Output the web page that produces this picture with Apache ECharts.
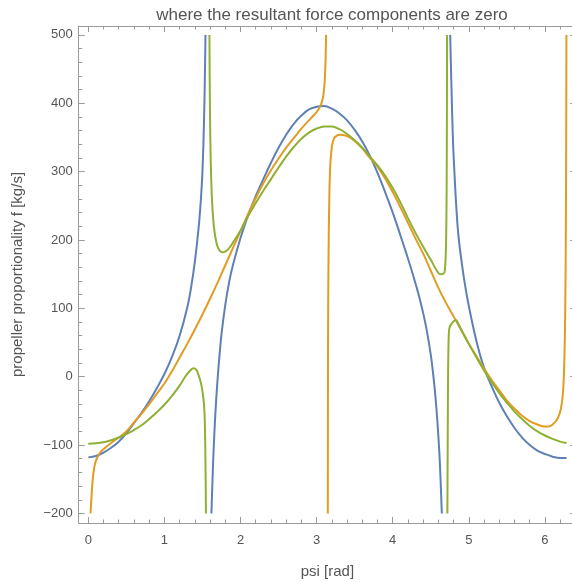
<!DOCTYPE html>
<html>
<head>
<meta charset="utf-8">
<script src="https://cdn.jsdelivr.net/npm/echarts@6/dist/echarts.min.js"></script>
<style>
html,body{margin:0;padding:0;background:#fff;}
#charts{width:572px;height:582px;}
</style>
</head>
<body>
<div id="charts"></div>
<script>
// 刻度
var xTicks = [0, 1, 2, 3, 4, 5, 6];
var yTicks = [-200, -100, 0, 100, 200, 300, 400, 500];

// 蓝线 (三段)
var blueX1 = [0, 0.1, 0.2, 0.3, 0.4, 0.5, 0.6, 0.7, 0.8, 0.9, 1.0, 1.1, 1.2, 1.3, 1.35, 1.4, 1.45, 1.48, 1.5, 1.52, 1.535, 1.54];
var blueY1 = [-118, -116, -111, -104, -95, -83, -68, -53, -36, -17, 4, 29, 60, 101, 130, 168, 218, 260, 300, 370, 460, 500];
var blueX2 = [1.618, 1.63, 1.645, 1.66, 1.68, 1.7, 1.725, 1.75, 1.8, 1.85, 1.9, 2.0, 2.1, 2.2, 2.3, 2.4, 2.5, 2.6, 2.7, 2.8, 2.9, 3.0, 3.1, 3.2, 3.3, 3.4, 3.5, 3.6, 3.7, 3.8, 3.9, 4.0, 4.05, 4.1, 4.15, 4.2, 4.25, 4.3, 4.35, 4.4, 4.45, 4.5, 4.525, 4.55, 4.575, 4.6, 4.62, 4.645];
var blueY2 = [-200, -158, -112, -75, -35, -2, 32, 62, 105, 138, 163, 203, 236, 264, 289, 313, 335, 354, 370, 382, 391, 395, 396, 392, 385, 375, 361, 344, 323, 298, 270, 240, 224, 207, 190, 173, 155, 136, 116, 93, 66, 32, 10, -16, -48, -88, -128, -200];
var blueX3 = [4.755, 4.77, 4.79, 4.81, 4.83, 4.86, 4.9, 4.95, 5.0, 5.1, 5.2, 5.3, 5.4, 5.5, 5.6, 5.7, 5.8, 5.9, 6.0, 6.1, 6.2, 6.283];
var blueY3 = [500, 430, 350, 300, 258, 210, 172, 134, 103, 52, 13, -14, -38, -58, -75, -89, -100, -108, -113, -117, -119, -119];

// 橙线 (两段)
var orangeX1 = [0.03, 0.04, 0.055, 0.075, 0.1, 0.15, 0.2, 0.3, 0.4, 0.5, 0.6, 0.7, 0.8, 0.9, 1.0, 1.1, 1.2, 1.3, 1.4, 1.5, 1.6, 1.7, 1.8, 1.9, 2.0, 2.1, 2.2, 2.3, 2.4, 2.5, 2.6, 2.7, 2.8, 2.9, 2.95, 3.0, 3.04, 3.07, 3.09, 3.105, 3.115, 3.125];
var orangeY1 = [-200, -180, -155, -135, -123, -112, -106, -97, -89, -80, -67, -54, -40, -25, -10, 8, 28, 48, 69, 91, 114, 138, 163, 188, 213, 238, 261, 283, 302, 319, 335, 349, 363, 375, 381, 387, 394, 402, 413, 430, 455, 500];
var orangeX2 = [3.147, 3.149, 3.152, 3.157, 3.165, 3.178, 3.2, 3.23, 3.27, 3.3, 3.4, 3.5, 3.6, 3.7, 3.8, 3.9, 4.0, 4.1, 4.2, 4.3, 4.4, 4.5, 4.6, 4.7, 4.8, 4.9, 5.0, 5.1, 5.2, 5.3, 5.4, 5.5, 5.6, 5.7, 5.8, 5.9, 6.0, 6.05, 6.1, 6.15, 6.19, 6.22, 6.24, 6.255, 6.266, 6.274, 6.279, 6.282];
var orangeY2 = [-200, 0, 100, 180, 250, 305, 336, 349, 353, 354, 352, 345, 334, 320, 307, 290, 270, 248, 225, 202, 180, 155, 130, 108, 88, 68, 48, 30, 12, -5, -20, -35, -47, -57, -65, -70, -73, -73, -70, -64, -55, -40, -18, 25, 95, 210, 350, 500];

// 绿线 (三段)
var greenX1 = [0, 0.1, 0.2, 0.3, 0.4, 0.5, 0.6, 0.7, 0.8, 0.9, 1.0, 1.1, 1.2, 1.28, 1.34, 1.38, 1.42, 1.45, 1.48, 1.505, 1.52, 1.53, 1.537, 1.542, 1.546];
var greenY1 = [-98, -97.5, -96, -93, -89, -84, -78, -71, -62, -52, -41, -28, -13, 1, 9, 12.5, 10, 2, -9, -25, -40, -62, -100, -150, -200];
var greenX2 = [1.592, 1.595, 1.6, 1.607, 1.615, 1.625, 1.64, 1.66, 1.68, 1.7, 1.73, 1.76, 1.8, 1.85, 1.9, 2.0, 2.1, 2.2, 2.3, 2.4, 2.5, 2.6, 2.7, 2.8, 2.9, 3.0, 3.1, 3.2, 3.3, 3.4, 3.5, 3.6, 3.7, 3.8, 3.9, 4.0, 4.1, 4.2, 4.3, 4.4, 4.5, 4.58, 4.62, 4.67, 4.685, 4.697, 4.705, 4.71, 4.714];
var greenY2 = [500, 440, 380, 325, 290, 260, 232, 211, 198, 190, 184, 182, 183, 188, 196, 214, 235, 254, 272, 289, 306, 322, 336, 348, 357, 363, 366, 366, 362, 355, 346, 335, 322, 309, 294, 276, 255, 232, 210, 190, 171, 155, 150, 151, 156, 180, 230, 320, 500];
var greenX3 = [4.718, 4.722, 4.727, 4.733, 4.74, 4.75, 4.77, 4.8, 4.83, 4.86, 4.9, 5.0, 5.1, 5.2, 5.3, 5.4, 5.5, 5.6, 5.7, 5.8, 5.9, 6.0, 6.1, 6.2, 6.283];
var greenY3 = [-200, -100, 0, 50, 68, 73, 77, 81, 83, 78, 69, 48, 28, 9, -8, -24, -38, -51, -62, -72, -80, -86, -91, -95, -97];

var blue = '#5E81B5', orange = '#E19C24', green = '#8FB032';
var frameColor = '#9a9a9a', textColor = '#555555';
var font = 'Liberation Sans, Arial, sans-serif';

var xMin = -0.1257, xMax = 6.409, yMin = -214, yMax = 513;

// 次刻度
var xMinor = [];
for (var i = 1; i <= 32; i++) {
	if (i % 5 != 0) xMinor.push(i * 0.2);
}
var yMinor = [];
for (var v = -200; v <= 500; v += 20) {
	if (v % 100 != 0) yMinor.push(v);
}

function pairs(xs, ys) {
	var d = [];
	for (var i = 0; i < xs.length; i++) d.push([xs[i], ys[i]]);
	return d;
}

function line(xs, ys, color) {
	return {
		type: 'line',
		data: pairs(xs, ys),
		showSymbol: false,
		symbol: 'none',
		smooth: 0.4,
		lineStyle: { color: color, width: 2 },
		itemStyle: { color: color },
		clip: true,
		silent: true
	};
}

function xAxisOf(pos, ticks, len, showLine, showLabel, extra) {
	var a = {
		type: 'value', position: pos, min: xMin, max: xMax,
		splitLine: { show: false },
		axisLine: { show: showLine, onZero: false, lineStyle: { color: frameColor, width: 1 } },
		axisTick: { show: true, inside: true, length: len, customValues: ticks, lineStyle: { color: frameColor } },
		axisLabel: { show: showLabel, customValues: ticks, color: textColor, fontSize: 13, fontFamily: font, margin: 11 }
	};
	for (var k in extra) a[k] = extra[k];
	return a;
}

function yAxisOf(pos, ticks, len, showLine, showLabel, extra) {
	var a = {
		type: 'value', position: pos, min: yMin, max: yMax,
		splitLine: { show: false },
		axisLine: { show: showLine, onZero: false, lineStyle: { color: frameColor, width: 1 } },
		axisTick: { show: true, inside: true, length: len, customValues: ticks, lineStyle: { color: frameColor } },
		axisLabel: { show: showLabel, customValues: ticks, color: textColor, fontSize: 13, fontFamily: font, margin: 6,
			formatter: function (v) { return v < 0 ? '\u2212' + (-v) : '' + v; } }
	};
	for (var k in extra) a[k] = extra[k];
	return a;
}

var charts = echarts.init(document.getElementById('charts'), null, { renderer: 'canvas' });
var option = {
	animation: false,
	backgroundColor: '#ffffff',
	title: {
		text: 'where the resultant force components are zero',
		left: 327, top: 2, textAlign: 'center',
		textStyle: { color: textColor, fontSize: 17, fontWeight: 'normal', fontFamily: font }
	},
	grid: { left: 78.7, top: 26, width: 497.4, height: 497, outerBoundsMode: 'none', containLabel: false },
	xAxis: [
		xAxisOf('bottom', xTicks, 6, true, true, {
			name: 'psi [rad]', nameLocation: 'middle', nameGap: 41,
			nameTextStyle: { color: textColor, fontSize: 15, fontFamily: font }
		}),
		xAxisOf('bottom', xMinor, 3.5, false, false, {}),
		xAxisOf('top', xTicks, 6, true, false, {}),
		xAxisOf('top', xMinor, 3.5, false, false, {})
	],
	yAxis: [
		yAxisOf('left', yTicks, 6, true, true, {
			name: 'propeller proportionality f [kg/s]', nameLocation: 'middle', nameGap: 53,
			nameTextStyle: { color: textColor, fontSize: 15, fontFamily: font }
		}),
		yAxisOf('left', yMinor, 3.5, false, false, {}),
		yAxisOf('right', yTicks, 6, true, false, {}),
		yAxisOf('right', yMinor, 3.5, false, false, {})
	],
	series: [
		line(blueX1, blueY1, blue),
		line(blueX2, blueY2, blue),
		line(blueX3, blueY3, blue),
		line(orangeX1, orangeY1, orange),
		line(orangeX2, orangeY2, orange),
		line(greenX1, greenY1, green),
		line(greenX2, greenY2, green),
		line(greenX3, greenY3, green)
	]
};
charts.setOption(option);
</script>
</body>
</html>
